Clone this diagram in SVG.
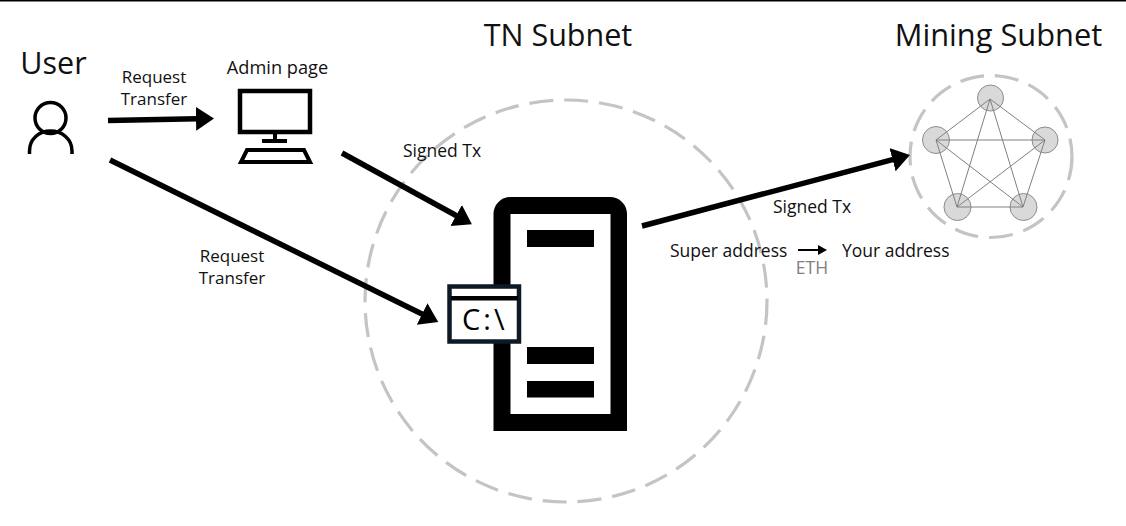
<svg xmlns="http://www.w3.org/2000/svg" width="1126" height="526" viewBox="0 0 1126 526">
<style>
text{font-family:"Open Sans","Noto Sans","Liberation Sans",sans-serif;fill:#111}
.t{font-size:30.5px}
.l{font-size:17.5px}
.c{text-anchor:middle}
.dash{fill:none;stroke:#c4c4c4;stroke-width:3.2;stroke-dasharray:24 11}
.con{stroke:#000;stroke-width:5.5;fill:none}
.node{fill:#d9d9d9;stroke:#8c8c8c;stroke-width:1}
.edge{stroke:#808080;stroke-width:1;fill:none}
</style>
<defs>
<marker id="arr" markerUnits="userSpaceOnUse" markerWidth="20" markerHeight="26" refX="1" refY="12" orient="auto"><path d="M0 0L18 12L0 24Z" fill="#000"/></marker>
<marker id="arrS" markerUnits="userSpaceOnUse" markerWidth="10" markerHeight="10" refX="1" refY="5" orient="auto"><path d="M0 0L9 5L0 10Z" fill="#000"/></marker>
</defs>
<rect width="1126" height="526" fill="#fff"/>
<rect width="1126" height="1.5" fill="#000"/>
<g id="tn-subnet">
<circle class="dash" cx="566" cy="301" r="201"/>
<text class="t c" x="558" y="46">TN Subnet</text>
</g>
<g id="mining-subnet">
<circle class="dash" cx="991" cy="156.500" r="81"/>
<text class="t c" x="998.500" y="46" style="font-size:30.8px">Mining Subnet</text>
<circle class="node" cx="990.500" cy="98" r="13"/>
<circle class="node" cx="936" cy="140" r="13.500"/>
<circle class="node" cx="1045" cy="140" r="13"/>
<circle class="node" cx="957.500" cy="207" r="13.500"/>
<circle class="node" cx="1023.500" cy="207" r="13.500"/>
<path class="edge" d="M990 99L936 140L957 207L1023 207L1045 140ZM990 99L957 207M990 99L1023 207M936 140H1045M936 140L1023 207M1045 140L957 207"/>
</g>
<g id="user">
<text class="t c" x="53.500" y="74">User</text>
<g fill="none" stroke="#000" stroke-width="3.500">
<circle cx="50.500" cy="118" r="15.500"/>
<path d="M29.500 154V151C29.500 139 39 131 50.500 131S72 139 72 151V154"/>
</g>
</g>
<g id="admin-page">
<text class="l c" x="277.500" y="74" style="font-size:18.2px">Admin page</text>
<rect x="240" y="91" width="70" height="41" fill="#fff" stroke="#000" stroke-width="4.500"/>
<path d="M273 133H277V139H287V143H262V139H273Z" fill="#000"/>
<path d="M247 150H304L310 162H241Z" fill="#fff" stroke="#000" stroke-width="4"/>
</g>
<g id="server">
<path d="M493.500 431V214A17 17 0 0 1 510.500 197H610A17 17 0 0 1 627 214V431Z" fill="#000"/>
<rect x="510.500" y="214" width="100" height="200" fill="#fff"/>
<g fill="#000">
<rect x="527" y="230" width="67" height="17"/>
<rect x="527" y="347" width="67" height="17"/>
<rect x="527" y="381" width="67" height="16.500"/>
</g>
</g>
<g id="console">
<rect x="449.500" y="286.500" width="69.500" height="55" fill="#fff" stroke="#0d1a26" stroke-width="4.500"/>
<rect x="451" y="296" width="67" height="4.500" fill="#000"/>
<text x="462" y="330" style="font-size:29px;fill:#000;letter-spacing:3px">C:\</text>
</g>
<g id="connectors">
<path class="con" marker-end="url(#arr)" d="M108 120.500L197 118.800"/>
<path class="con" marker-end="url(#arr)" d="M342 153L457 216"/>
<path class="con" marker-end="url(#arr)" d="M110 160L423 314.500"/>
<path class="con" marker-end="url(#arr)" d="M642 226L893.500 159.400"/>
<path stroke="#000" stroke-width="2" fill="none" marker-end="url(#arrS)" d="M798 250H819"/>
</g>
<g id="labels">
<text class="l c" x="154" y="83" style="font-size:17px">Request</text>
<text class="l c" x="154" y="105" style="font-size:17px">Transfer</text>
<text class="l c" x="442" y="157">Signed Tx</text>
<text class="l c" x="232" y="262" style="font-size:17px">Request</text>
<text class="l c" x="232" y="284" style="font-size:17px">Transfer</text>
<text class="l c" x="812" y="213">Signed Tx</text>
<text class="l" x="670" y="256.500">Super address</text>
<text class="l" x="842" y="256.500">Your address</text>
<text class="l c" x="812" y="274" style="fill:#808080">ETH</text>
</g>
</svg>
